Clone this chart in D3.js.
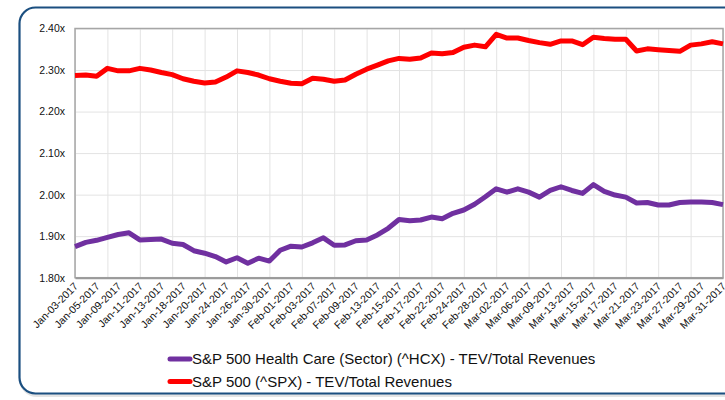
<!DOCTYPE html>
<html>
<head>
<meta charset="utf-8">
<script src="https://cdn.jsdelivr.net/npm/d3@7"></script>
<style>
  body { margin: 0; background: #fff; }
  text { font-family: "Liberation Sans", Arial, sans-serif; fill: #111; }
</style>
</head>
<body>
<svg id="chart" width="725" height="400"></svg>
<script>
// trading days shown on the category axis
var dates = ["Jan-03-2017","Jan-04-2017","Jan-05-2017","Jan-06-2017","Jan-09-2017","Jan-10-2017",
  "Jan-11-2017","Jan-12-2017","Jan-13-2017","Jan-17-2017","Jan-18-2017","Jan-19-2017","Jan-20-2017",
  "Jan-23-2017","Jan-24-2017","Jan-25-2017","Jan-26-2017","Jan-27-2017","Jan-30-2017","Jan-31-2017",
  "Feb-01-2017","Feb-02-2017","Feb-03-2017","Feb-06-2017","Feb-07-2017","Feb-08-2017","Feb-09-2017",
  "Feb-10-2017","Feb-13-2017","Feb-14-2017","Feb-15-2017","Feb-16-2017","Feb-17-2017","Feb-21-2017",
  "Feb-22-2017","Feb-23-2017","Feb-24-2017","Feb-27-2017","Feb-28-2017","Mar-01-2017","Mar-02-2017",
  "Mar-03-2017","Mar-06-2017","Mar-07-2017","Mar-09-2017","Mar-10-2017","Mar-13-2017","Mar-14-2017",
  "Mar-15-2017","Mar-16-2017","Mar-17-2017","Mar-20-2017","Mar-21-2017","Mar-22-2017","Mar-23-2017",
  "Mar-24-2017","Mar-27-2017","Mar-28-2017","Mar-29-2017","Mar-30-2017","Mar-31-2017"];

var hcx = [1.875,1.885,1.890,1.897,1.904,1.908,1.891,1.892,1.893,1.883,1.880,1.865,1.859,1.851,
  1.838,1.848,1.835,1.847,1.840,1.866,1.876,1.874,1.884,1.896,1.878,1.879,1.889,1.891,1.903,1.919,
  1.940,1.937,1.939,1.946,1.942,1.955,1.963,1.977,1.995,2.014,2.006,2.014,2.006,1.994,2.010,2.019,
  2.010,2.003,2.024,2.008,1.999,1.994,1.980,1.981,1.975,1.975,1.981,1.982,1.982,1.981,1.976];

var spx = [2.287,2.288,2.285,2.304,2.298,2.298,2.304,2.300,2.294,2.289,2.279,2.273,2.269,2.271,
  2.283,2.298,2.294,2.288,2.279,2.273,2.268,2.267,2.280,2.278,2.273,2.276,2.290,2.302,2.312,2.322,
  2.328,2.326,2.329,2.341,2.339,2.342,2.355,2.360,2.356,2.386,2.377,2.377,2.371,2.366,2.362,2.370,
  2.370,2.361,2.379,2.376,2.374,2.374,2.346,2.351,2.349,2.347,2.345,2.360,2.363,2.368,2.363];

var yTicks = [1.8, 1.9, 2.0, 2.1, 2.2, 2.3, 2.4];

var seriesNames = ["S&P 500 Health Care (Sector) (^HCX) - TEV/Total Revenues",
  "S&P 500 (^SPX) - TEV/Total Revenues"];
var seriesColors = ["#7030a0", "#ff0000"];

var svg = d3.select("#chart");

// outer frame with a soft shadow
svg.append("rect")
  .attr("x", 21).attr("y", 9).attr("width", 740).attr("height", 386).attr("rx", 16)
  .attr("fill", "none").attr("stroke", "#e4e4e4").attr("stroke-width", 4);
svg.append("rect")
  .attr("x", 19.5).attr("y", 7.5).attr("width", 740).attr("height", 386).attr("rx", 16)
  .attr("fill", "#fff").attr("stroke", "#1b4f80").attr("stroke-width", 2.2);

var plotL = 75, plotR = 723, plotT = 28.5, plotB = 277.7;

var x = d3.scalePoint().domain(dates).range([plotL, plotR]);
var y = d3.scaleLinear().domain([1.8, 2.4]).range([plotB, plotT]);

// gridlines
svg.append("g")
  .attr("transform", `translate(0,${plotB})`)
  .call(d3.axisBottom(x).tickValues(dates.filter((d, i) => i % 3 == 0))
    .tickSize(-(plotB - plotT)).tickFormat(""))
  .call(g => g.select(".domain").remove())
  .call(g => g.selectAll("line").attr("stroke", "#e3e3e3"));

svg.append("g")
  .attr("transform", `translate(${plotL},0)`)
  .call(d3.axisLeft(y).tickValues(yTicks).tickSize(-(plotR - plotL)).tickFormat(""))
  .call(g => g.select(".domain").remove())
  .call(g => g.selectAll("line").attr("stroke", "#e3e3e3"));

// plot frame
svg.append("rect")
  .attr("x", plotL).attr("y", plotT).attr("width", plotR - plotL).attr("height", plotB - plotT)
  .attr("fill", "none").attr("stroke", "#a6a6a6").attr("stroke-width", 1.5);

// y axis labels
svg.append("g")
  .attr("transform", `translate(${plotL},0)`)
  .call(d3.axisLeft(y).tickValues(yTicks).tickSize(0).tickPadding(10)
    .tickFormat(d => d3.format(".2f")(d) + "x"))
  .call(g => g.select(".domain").remove())
  .call(g => g.selectAll("text").attr("font-size", "10.5px").attr("fill", "#111")
    .attr("font-family", "Liberation Sans, Arial, sans-serif"));

// x axis
var xAxis = svg.append("g")
  .attr("transform", `translate(0,${plotB})`)
  .call(d3.axisBottom(x).tickValues(dates.filter((d, i) => i % 2 == 0)).tickSize(0));
xAxis.select(".domain").attr("stroke", "#9a9a9a").attr("stroke-width", 2);
xAxis.selectAll("text")
  .attr("font-size", "10.5px").attr("fill", "#111")
  .attr("font-family", "Liberation Sans, Arial, sans-serif")
  .attr("text-anchor", "end")
  .attr("dy", "0.3em").attr("y", 0)
  .attr("transform", "translate(1,7) rotate(-45)");

// lines
var line = d3.line().x((d, i) => x(dates[i])).y(d => y(d));
[hcx, spx].forEach((vals, k) => {
  svg.append("path")
    .datum(vals)
    .attr("d", line)
    .attr("fill", "none")
    .attr("stroke", seriesColors[k])
    .attr("stroke-width", 5)
    .attr("stroke-linejoin", "round");
});

// legend
var legend = svg.append("g");
seriesNames.forEach((name, k) => {
  var ly = 359 + k * 22.5;
  legend.append("line")
    .attr("x1", 170).attr("x2", 190).attr("y1", ly).attr("y2", ly)
    .attr("stroke", seriesColors[k]).attr("stroke-width", 5).attr("stroke-linecap", "round");
  legend.append("text")
    .attr("x", 192).attr("y", ly + 5)
    .attr("font-size", "15px")
    .text(name);
});
</script>
</body>
</html>
